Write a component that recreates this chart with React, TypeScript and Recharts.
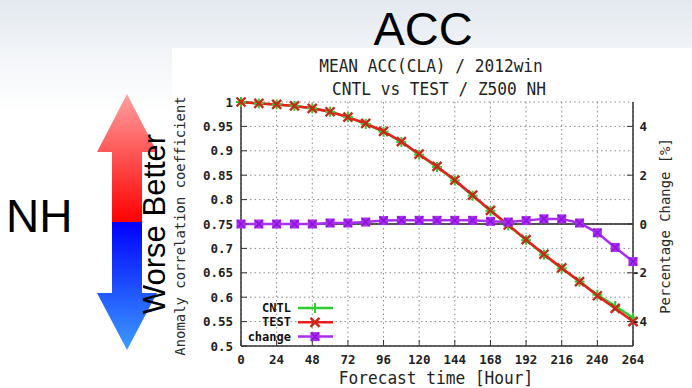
import React from "react";
import {
  ComposedChart,
  Line,
  XAxis,
  YAxis,
  CartesianGrid,
  ReferenceLine,
  Legend,
} from "recharts";

// forecast hours (x) and the three series
const hours = [0, 12, 24, 36, 48, 60, 72, 84, 96, 108, 120, 132, 144, 156, 168, 180, 192, 204, 216, 228, 240, 252, 264];
const cntl = [1.0, 0.997, 0.995, 0.992, 0.987, 0.98, 0.969, 0.955, 0.939, 0.918, 0.892, 0.867, 0.839, 0.808, 0.777, 0.747, 0.717, 0.687, 0.659, 0.632, 0.605, 0.582, 0.558];
const test = [1.0, 0.997, 0.995, 0.992, 0.987, 0.98, 0.969, 0.956, 0.94, 0.919, 0.893, 0.868, 0.84, 0.809, 0.778, 0.748, 0.718, 0.688, 0.66, 0.632, 0.603, 0.577, 0.55];
const change = [0, 0, 0, 0, 0, 0.04, 0.04, 0.08, 0.14, 0.15, 0.15, 0.15, 0.15, 0.15, 0.11, 0.08, 0.14, 0.21, 0.21, 0.04, -0.36, -0.96, -1.54];

const hourTicks = [0, 24, 48, 72, 96, 120, 144, 168, 192, 216, 240, 264];
const accTicks = [0.5, 0.55, 0.6, 0.65, 0.7, 0.75, 0.8, 0.85, 0.9, 0.95, 1];
const changeTicks = [-4, -2, 0, 2, 4];

const legendNames = ["CNTL", "TEST", "change"];

const data = hours.map((h, i) => ({
  hour: h,
  cntl: cntl[i],
  test: test[i],
  change: change[i],
}));

const GREEN = "#2fcc2f";
const RED = "#ee1c1c";
const PURPLE = "#aa2ef0";
const MONO = "'DejaVu Sans Mono', monospace";
const SANS = "'Liberation Sans', Arial, sans-serif";

function plusMark(cx: number, cy: number, key?: string) {
  return (
    <g key={key}>
      <line x1={cx - 5} x2={cx + 5} y1={cy} y2={cy} stroke={GREEN} strokeWidth={2} />
      <line x1={cx} x2={cx} y1={cy - 5} y2={cy + 5} stroke={GREEN} strokeWidth={2} />
    </g>
  );
}

function crossMark(cx: number, cy: number, key?: string) {
  return (
    <g key={key}>
      <line x1={cx - 4.5} x2={cx + 4.5} y1={cy - 4.5} y2={cy + 4.5} stroke="#c8281a" strokeWidth={2.4} />
      <line x1={cx - 4.5} x2={cx + 4.5} y1={cy + 4.5} y2={cy - 4.5} stroke="#c8281a" strokeWidth={2.4} />
    </g>
  );
}

function boxMark(cx: number, cy: number, key?: string) {
  return (
    <g key={key}>
      <rect x={cx - 4.5} y={cy - 4.5} width={9} height={9} fill={PURPLE} />
      <line x1={cx - 4} x2={cx + 4} y1={cy - 4} y2={cy + 4} stroke="#8c14d8" strokeWidth={1.5} />
      <line x1={cx - 4} x2={cx + 4} y1={cy + 4} y2={cy - 4} stroke="#8c14d8" strokeWidth={1.5} />
    </g>
  );
}

const markers = [plusMark, crossMark, boxMark];
const colors = [GREEN, RED, PURPLE];

const LeftTick = (p: any) => (
  <text x={p.x} y={p.y} textAnchor="end" dominantBaseline="central" fontFamily={MONO} fontWeight="bold" fontSize={12.5} fill="#222">
    {String(p.payload.value)}
  </text>
);

const RightTick = (p: any) => (
  <text x={p.x + 10} y={p.y} textAnchor="end" dominantBaseline="central" fontFamily={MONO} fontWeight="bold" fontSize={12.5} fill="#222">
    {String(p.payload.value)}
  </text>
);

const BottomTick = (p: any) => (
  <text x={p.x} y={p.y + 19} textAnchor="middle" dominantBaseline="central" fontFamily={MONO} fontWeight="bold" fontSize={12.5} fill="#222">
    {String(p.payload.value)}
  </text>
);

const renderLegend = () => (
  <svg width={110} height={50}>
    {legendNames.map((name, i) => {
      const y = 10 + i * 14.3;
      return (
        <g key={name}>
          <text x={51} y={y} textAnchor="end" dominantBaseline="central" fontFamily={MONO} fontWeight="bold" fontSize={12} fill="#111">
            {name}
          </text>
          <line x1={58} x2={93} y1={y} y2={y} stroke={colors[i]} strokeWidth={2.5} />
          {markers[i](75, y)}
        </g>
      );
    })}
  </svg>
);

export default function App() {
  return (
    <div
      style={{
        position: "absolute",
        left: 0,
        top: 0,
        width: 692,
        height: 388,
        overflow: "hidden",
        background: "linear-gradient(#e3e9ef 0px, #f4f6f9 60px, #ffffff 115px)",
      }}
    >
      <div style={{ position: "absolute", left: 172, top: 48, width: 520, height: 340, background: "#fff" }} />
      <svg width={692} height={388} style={{ position: "absolute", left: 0, top: 0 }}>
        <defs>
          <linearGradient id="redUp" x1="0" y1="0" x2="0" y2="1">
            <stop offset="0" stopColor="#ffa0a0" />
            <stop offset="1" stopColor="#ff0000" />
          </linearGradient>
          <linearGradient id="blueDown" x1="0" y1="0" x2="0" y2="1">
            <stop offset="0" stopColor="#0000ff" />
            <stop offset="1" stopColor="#3c9cff" />
          </linearGradient>
        </defs>
        <polygon points="127,94 157,152 142,152 142,222 112,222 112,152 97,152" fill="url(#redUp)" />
        <polygon points="112,222 142,222 142,293 157,293 127,350 97,293 112,293" fill="url(#blueDown)" />
        <text x={423} y={45} textAnchor="middle" fontFamily={SANS} fontSize={47} fill="#000">ACC</text>
        <text x={6} y={232} fontFamily={SANS} fontSize={46} fill="#000">NH</text>
        <text x={0} y={0} transform="translate(165,224) rotate(-90)" textAnchor="middle" fontFamily={SANS} fontSize={31} fill="#000">
          Worse Better
        </text>
        <text x={0} y={0} transform="translate(431,72) scale(0.95,1)" textAnchor="middle" fontFamily={MONO} fontSize={17} fill="#222">
          MEAN ACC(CLA) / 2012win
        </text>
        <text x={0} y={0} transform="translate(439,95) scale(0.95,1)" textAnchor="middle" fontFamily={MONO} fontSize={17} fill="#222">
          CNTL vs TEST / Z500 NH
        </text>
        <text x={0} y={0} transform="translate(436,384) scale(0.95,1)" textAnchor="middle" fontFamily={MONO} fontSize={17} fill="#222">
          Forecast time [Hour]
        </text>
        <text x={0} y={0} transform="translate(185,226) rotate(-90)" textAnchor="middle" fontFamily={MONO} fontSize={13.9} fill="#2a2a2a">
          Anomaly correlation coefficient
        </text>
        <text x={0} y={0} transform="translate(670,226) rotate(-90)" textAnchor="middle" fontFamily={MONO} fontSize={13.9} fill="#2a2a2a">
          Percentage Change [%]
        </text>
      </svg>
      <div style={{ position: "absolute", left: 0, top: 0 }}>
        <ComposedChart width={692} height={388} data={data} margin={{ top: 102, right: 0, bottom: 0, left: 0 }}>
          <CartesianGrid xAxisId="bottom" yAxisId="left" stroke="#8a8a8a" strokeDasharray="1.5 3" />
          <XAxis
            xAxisId="bottom"
            dataKey="hour"
            type="number"
            domain={[0, 264]}
            ticks={hourTicks}
            height={42}
            tickSize={-6}
            tickMargin={0}
            tick={BottomTick}
            axisLine={{ stroke: "#333", strokeWidth: 1.5 }}
            tickLine={{ stroke: "#333" }}
          />
          <XAxis
            xAxisId="top"
            orientation="top"
            dataKey="hour"
            type="number"
            domain={[0, 264]}
            ticks={hourTicks}
            height={0}
            tickSize={-6}
            tick={false}
            axisLine={{ stroke: "#333", strokeWidth: 1.5 }}
            tickLine={{ stroke: "#333" }}
          />
          <YAxis
            yAxisId="left"
            domain={[0.5, 1]}
            ticks={accTicks}
            width={241}
            tickSize={-6}
            tickMargin={14}
            tick={LeftTick}
            axisLine={{ stroke: "#333", strokeWidth: 1.5 }}
            tickLine={{ stroke: "#333" }}
          />
          <YAxis
            yAxisId="right"
            orientation="right"
            domain={[-5, 5]}
            ticks={changeTicks}
            width={59}
            tickSize={-6}
            tickMargin={10}
            tick={RightTick}
            axisLine={{ stroke: "#333", strokeWidth: 1.5 }}
            tickLine={{ stroke: "#333" }}
          />
          <ReferenceLine xAxisId="bottom" yAxisId="left" y={0.75} stroke="#222" strokeWidth={1.3} />
          <Line
            xAxisId="bottom"
            yAxisId="left"
            type="linear"
            dataKey="cntl"
            name="CNTL"
            stroke={GREEN}
            strokeWidth={2.5}
            dot={(p: any) => plusMark(p.cx, p.cy, `c${p.index}`)}
            isAnimationActive={false}
          />
          <Line
            xAxisId="bottom"
            yAxisId="left"
            type="linear"
            dataKey="test"
            name="TEST"
            stroke={RED}
            strokeWidth={2.5}
            dot={(p: any) => crossMark(p.cx, p.cy, `t${p.index}`)}
            isAnimationActive={false}
          />
          <Line
            xAxisId="bottom"
            yAxisId="right"
            type="linear"
            dataKey="change"
            name="change"
            stroke={PURPLE}
            strokeWidth={2.5}
            dot={(p: any) => boxMark(p.cx, p.cy, `p${p.index}`)}
            isAnimationActive={false}
          />
          <Legend
            layout="vertical"
            align="center"
            verticalAlign="middle"
            content={renderLegend}
            wrapperStyle={{ left: 240, top: 298, width: 110, height: 50 }}
          />
        </ComposedChart>
      </div>
    </div>
  );
}
